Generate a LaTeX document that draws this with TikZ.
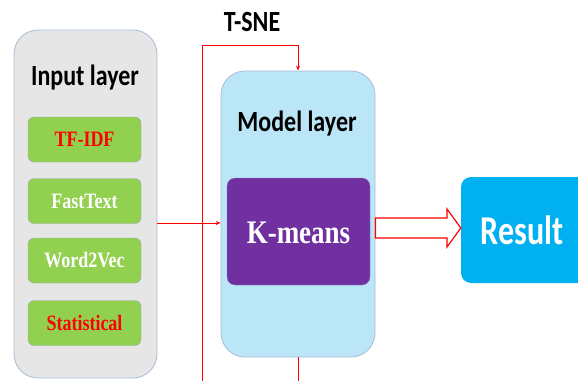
\documentclass[tikz,border=0pt]{standalone}
\usepackage{fontspec}
\setmainfont{Liberation Serif}
\newfontfamily\calibri{Carlito}
\usetikzlibrary{arrows.meta}
\definecolor{layergray}{HTML}{E6E6E6}
\definecolor{layerblue}{HTML}{BBE6F8}
\definecolor{edgeblue}{HTML}{A9BCD8}
\definecolor{boxgreen}{HTML}{92D050}
\definecolor{boxpurple}{HTML}{7030A0}
\definecolor{resultblue}{HTML}{00B0F0}
\newcommand{\tall}[1]{\scalebox{1}[1.22]{#1}}
\begin{document}
\begin{tikzpicture}[x=1pt,y=-1pt]

		\tikzset{
		  layer/.style={
			draw=edgeblue,
			line width=0.8pt,
			rounded corners=24pt,
		  },
		  method/.style={
			draw=edgeblue!70!gray,
			fill=boxgreen,
			rounded corners=6pt,
			minimum width=113pt,
			minimum height=45pt,
			font=\bfseries\fontsize{18}{18}\selectfont,
		  },
		  title/.style={
			font=\calibri\bfseries\fontsize{24}{24}\selectfont,
		  },
		  link/.style={
			color={red},
			line width=1pt,
		  },
		}
		\clip (0,0) rectangle (578,380);
		\useasboundingbox (0,0) rectangle (578,380);
		% the two layers
		\node[layer,fill=layergray,minimum width=143pt,minimum height=348pt] (input) at (85.5,204) {};
		\node[layer,fill=layerblue,minimum width=154pt,minimum height=286pt] (model) at (298,214) {};
		\node[title] (inputtitle) at (85,78) {\tall{Input layer}};
		\node[title] (modeltitle) at (297,124) {\tall{Model layer}};
		\node[title,font=\calibri\bfseries\fontsize{24}{24}\selectfont] (tsne) at (252,22) {\tall{T-SNE}};
		% the text features
		\node[method,text={red}] (tfidf) at (84.5,139.5) {\tall{TF-IDF}};
		\node[method,text={white}] (fasttext) at (84.5,201) {\tall{FastText}};
		\node[method,text={white}] (wordvec) at (84.5,260.5) {\tall{Word2Vec}};
		\node[method,text={red}] (statistical) at (84.5,323) {\tall{Statistical}};
		% clustering and result
		\node[draw=edgeblue!60!boxpurple,fill=boxpurple,rounded corners=8pt,minimum width=143pt,minimum height=107pt] (kmeans) at (298.5,231.5) {};
		\node[text={white},font=\bfseries\fontsize{27}{27}\selectfont] (kmeanstext) at (298.5,233) {\tall{K-means}};
		\node[fill=resultblue,rounded corners=10pt,minimum width=140pt,minimum height=106pt] (result) at (531,230) {};
		\node[text={white},font=\calibri\bfseries\fontsize{32}{32}\selectfont] (resulttext) at (522,230) {\scalebox{1}[1.28]{Result}};
		% connectors
		\coordinate (loopleft) at (202,385);
		\coordinate (loopright) at (298,385);
		\draw[link,-{Stealth[length=5pt,width=4pt]}] (input.east |- 0,223) -- (model.west |- 0,223);
		\draw[link,-{Stealth[length=5pt,width=4pt]}] (loopleft) |- (202,45) -| (model.north);
		\draw[link] (model.south) -- (loopright);
		\draw[color={red},line width=1.2pt,fill=white] (model.east |- 0,218) -- (447,218) -- (447,209) -- (result.west |- 0,228) -- (447,247) -- (447,238) -- (model.east |- 0,238) -- cycle;

\end{tikzpicture}
\end{document}
